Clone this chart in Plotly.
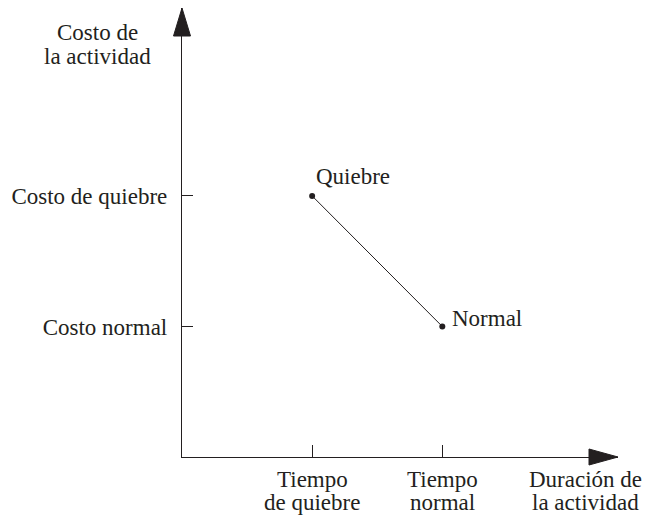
import plotly.graph_objects as go

# tick positions and labels
x_ticks = [1, 2]
x_tick_lines = [["Tiempo", "de quiebre"], ["Tiempo", "normal"]]
y_ticks = [1, 2]
y_tick_labels = ["Costo normal", "Costo de quiebre"]

# the two points: crash (quiebre) and normal
point_names = ["Quiebre", "Normal"]
duration = [1, 2]
cost = [2, 1]

X_MAX = 3.35
Y_MAX = 3.44
INK = "#231f20"
FONT = dict(family="Liberation Serif, Times New Roman, serif", size=23, color=INK)

# the page body has an 8px margin, so the figure is a bit smaller than the window
OFF = 8
FIG_W, FIG_H = 651 - OFF, 518 - OFF
# plot area (in window pixels: x 182..618, y 8..457)
L, T = 182 - OFF, 8 - OFF
W, H = 436, 449
R = FIG_W - L - W
B = FIG_H - T - H


def py(p):
    # window pixel row -> paper y
    return (T + H - (p - OFF)) / H


def px(p):
    return (p - OFF - L) / W


fig = go.Figure()

fig.add_trace(go.Scatter(
    x=duration, y=cost,
    mode="lines+markers",
    line=dict(color=INK, width=1),
    marker=dict(color=INK, size=6),
    cliponaxis=False,
    hoverinfo="skip",
))

# point labels
for name, xv, yv, dx, dy in zip(point_names, duration, cost, [2, 8], [19, 8]):
    fig.add_annotation(x=xv, y=yv, text=name, showarrow=False, font=FONT,
                       xanchor="left", yanchor="middle", xshift=dx, yshift=dy)

# arrow heads at the ends of both axes
ax_len, ax_half = 29 / W, 8 / H
ay_len, ay_half = 28 / H, 8.5 / W
fig.add_shape(type="path", xref="paper", yref="paper",
              path=f"M 1,0 L {1-ax_len},{ax_half} L {1-ax_len},{-ax_half} Z",
              fillcolor=INK, line=dict(color=INK, width=1))
fig.add_shape(type="path", xref="paper", yref="paper",
              path=f"M 0,1 L {-ay_half},{1-ay_len} L {ay_half},{1-ay_len} Z",
              fillcolor=INK, line=dict(color=INK, width=1))

# x tick labels, two rows each, plus x title
rows = [479, 502]
for xv, lines in zip(x_ticks, x_tick_lines):
    for line, r in zip(lines, rows):
        fig.add_annotation(x=xv, xref="x", y=py(r), yref="paper", text=line,
                           showarrow=False, font=FONT, xanchor="center", yanchor="middle")
for line, r in zip(["Duración de", "la actividad"], rows):
    fig.add_annotation(x=px(585), xref="paper", y=py(r), yref="paper", text=line,
                       showarrow=False, font=FONT, xanchor="center", yanchor="middle")

# y title
for line, r in zip(["Costo de", "la actividad"], [32, 57]):
    fig.add_annotation(x=px(97), xref="paper", y=py(r), yref="paper", text=line,
                       showarrow=False, font=FONT, xanchor="center", yanchor="middle")

axis_common = dict(
    showgrid=False, zeroline=False, showline=True, linecolor=INK, linewidth=1.3,
    ticks="inside", tickcolor=INK, tickwidth=1, tickfont=FONT, automargin=False,
)

fig.update_layout(
    width=FIG_W, height=FIG_H,
    margin=dict(l=L, r=R, t=T, b=B),
    paper_bgcolor="white", plot_bgcolor="white",
    showlegend=False,
    xaxis=dict(range=[0, X_MAX], tickvals=x_ticks, showticklabels=False,
               ticklen=12, **axis_common),
    yaxis=dict(range=[0, Y_MAX], tickvals=y_ticks, ticktext=y_tick_labels,
               ticklen=11, ticklabelstandoff=9, **axis_common),
)

fig.write_html("out.html")
